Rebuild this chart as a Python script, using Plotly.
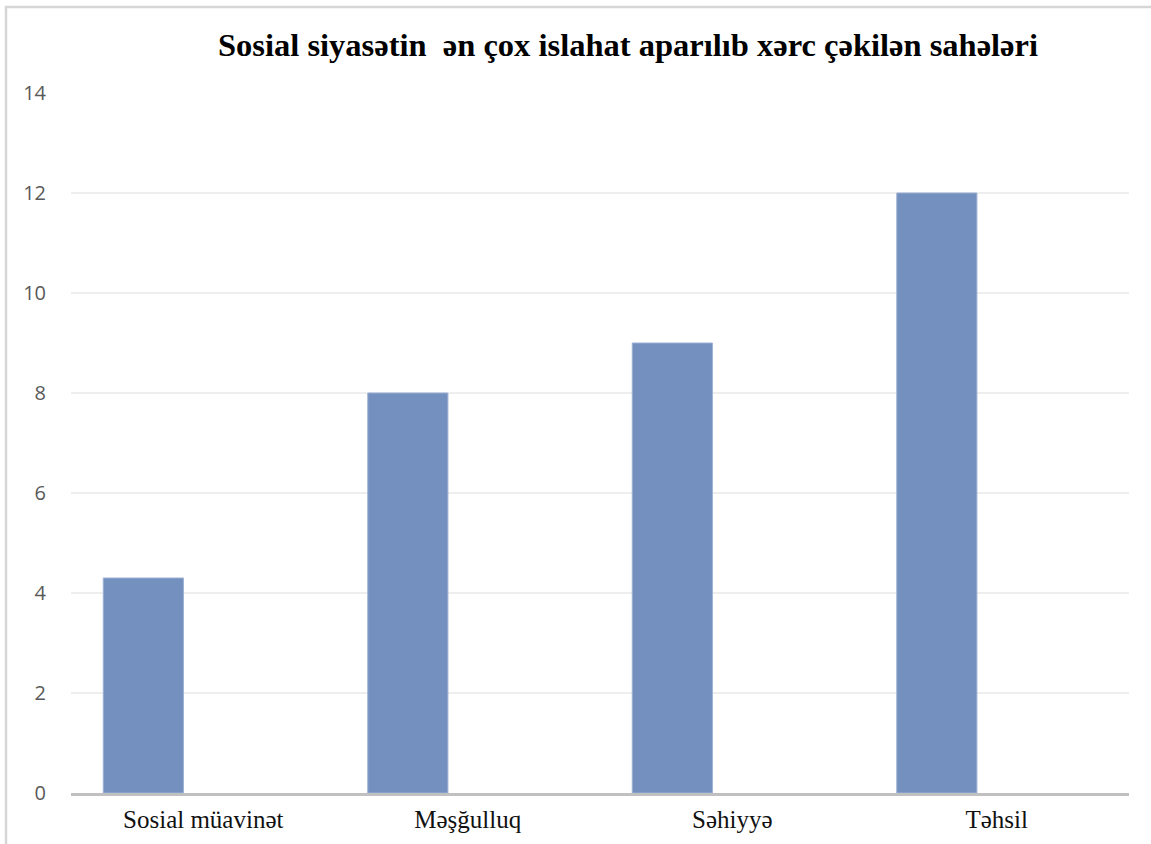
import plotly.graph_objects as go

categories = ["Sosial müavinət", "Məşğulluq", "Səhiyyə", "Təhsil"]
values = [4.3, 8, 9, 12]
y_ticks = [0, 2, 4, 6, 8, 10, 12, 14]
title_text = "Sosial siyasətin  ən çox islahat aparılıb xərc çəkilən sahələri"

W, H = 1151, 844
L, R, T, B = 71, 1129, 93, 793

fig = go.Figure()
fig.add_trace(go.Bar(
    x=categories, y=values,
    marker=dict(color="#7390bf", line=dict(color="#9db0d4", width=1)),
    width=0.303, offset=-0.378,
    hoverinfo="x+y",
))

fig.update_layout(
    width=W, height=H,
    margin=dict(l=L, r=W - R, t=T, b=H - B, pad=0, autoexpand=False),
    paper_bgcolor="white", plot_bgcolor="white",
    showlegend=False,
    title=dict(text="<b>" + title_text + "</b>", x=628 / W, xref="container",
               y=1 - 45 / H, yref="container", xanchor="center", yanchor="middle",
               font=dict(family="Liberation Serif", size=32.5, color="black")),
    xaxis=dict(
        type="category", showgrid=False, zeroline=False, automargin=False,
        showline=True, linecolor="#c0c0c0", linewidth=2.5,
        ticks="", tickfont=dict(family="Liberation Serif", size=25, color="#111111"),
        ticklabelstandoff=2,
    ),
    yaxis=dict(
        range=[0, 14], tickvals=y_ticks, showgrid=True, gridcolor="#eeeeee", gridwidth=1.5,
        zeroline=False, showline=False, ticks="", automargin=False,
        tickfont=dict(family="Open Sans", size=20, color="#595959"),
        ticklabelstandoff=24,
    ),
    shapes=[
        dict(type="line", xref="paper", yref="paper",
             x0=(6 - L) / (R - L), x1=(6 - L) / (R - L),
             y0=(B - H - 10) / (B - T), y1=(B - 6) / (B - T),
             line=dict(color="#d6d6d6", width=2.5)),
        dict(type="line", xref="paper", yref="paper",
             x0=(5 - L) / (R - L), x1=(W + 10 - L) / (R - L),
             y0=(B - 7) / (B - T), y1=(B - 7) / (B - T),
             line=dict(color="#d6d6d6", width=2.5)),
    ],
)

fig.write_html("out.html", config={"displayModeBar": False},
               post_script="document.body.style.margin='0';document.body.style.overflow='hidden';")
